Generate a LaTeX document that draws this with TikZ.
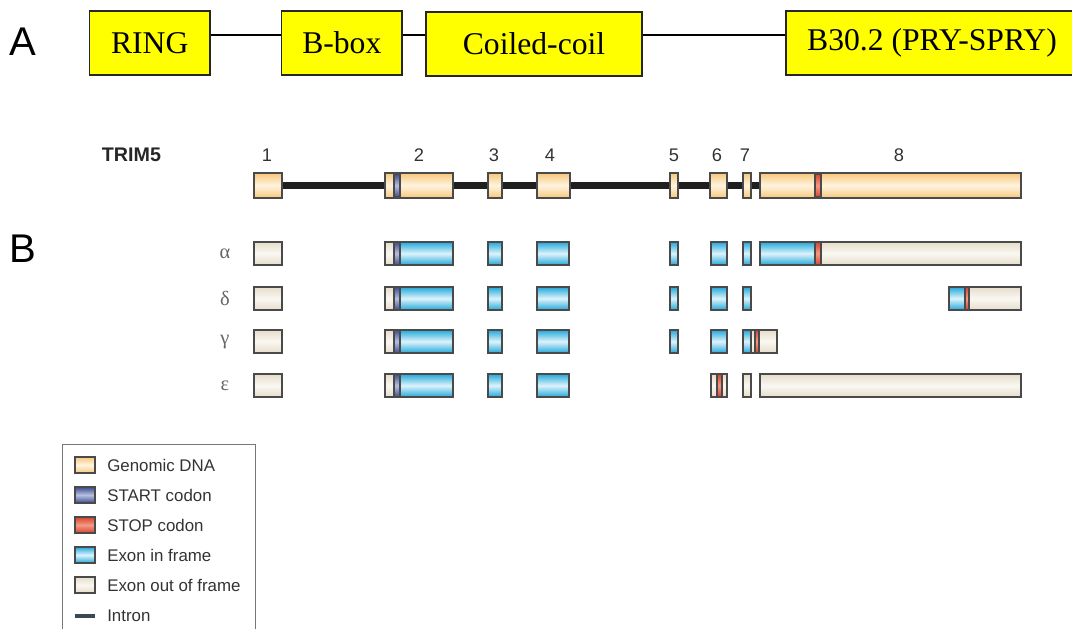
\documentclass[tikz,border=0pt]{standalone}
\usepackage{fontspec}
\setmainfont{Liberation Serif}
\newfontfamily\arialfont{Liberation Sans}
\usepackage{tikz}

\definecolor{domyellow}{HTML}{FFFF00}
\definecolor{edgegray}{HTML}{4A4A4A}
\definecolor{dnaedge}{HTML}{F7C77B}
\definecolor{dnamid}{HTML}{FFF4E0}
\definecolor{blueedge}{HTML}{22A8DA}
\definecolor{bluemid}{HTML}{DDF3FB}
\definecolor{beigeedge}{HTML}{E6DDCB}
\definecolor{beigemid}{HTML}{FAF7F1}
\definecolor{startedge}{HTML}{3C4C8E}
\definecolor{startmid}{HTML}{B8C0E0}
\definecolor{stopedge}{HTML}{D8432C}
\definecolor{stopmid}{HTML}{F49A85}
\definecolor{frameline}{HTML}{777777}
\definecolor{intronleg}{HTML}{3A4A55}

% one piece of an exon: left, right, top, look
\newcommand{\exonseg}[4]{\draw[#4] (#1,#3) rectangle (#2,#3+23);}

\begin{document}
\begin{tikzpicture}[x=0.025cm, y=-0.025cm,
    dombox/.style={draw=black!85, line width=1.1pt, fill=domyellow, inner sep=0pt,
                   minimum height=1.6cm, font=\fontsize{22.5}{26}\selectfont},
    panel/.style={font=\arialfont\fontsize{28.5}{32}\selectfont},
    linker/.style={line width=1.3pt},
    outl/.style={draw=edgegray, line width=0.85pt},
    gdna/.style={outl, top color=dnaedge, bottom color=dnaedge, middle color=dnamid},
    inframe/.style={outl, top color=blueedge, bottom color=blueedge, middle color=bluemid},
    outframe/.style={outl, top color=beigeedge, bottom color=beigeedge, middle color=beigemid},
    startc/.style={outl, top color=startedge, bottom color=startedge, middle color=startmid},
    stopc/.style={outl, top color=stopedge, bottom color=stopedge, middle color=stopmid},
    exonbox/.style={gdna, inner sep=0pt, minimum height=0.625cm},
    intron/.style={line width=4.3pt, draw=black!88},
    exnum/.style={font=\arialfont\fontsize{13}{15}\selectfont, text=black!80},
    iso/.style={font=\fontsize{14.5}{16}\selectfont, text=black!60},
    legtext/.style={font=\arialfont\fontsize{12}{14}\selectfont, text=black!80,
                    anchor=west, inner sep=0pt}
  ]
  \useasboundingbox (0,0) rectangle (1072,629);

  % A: domains
  \node[panel] (pa) at (23,42) {A};
  \node[dombox, minimum width=3.01cm] (ring) at (149.75,43) {RING};
  \node[dombox, minimum width=3.01cm] (bbox) at (341.8,43) {B-box};
  \node[dombox, minimum width=5.4cm] (coil) at (534,44) {Coiled-coil};
  \node[dombox, minimum width=7.3cm] (spry) at (932,43) {B30.2 (PRY-SPRY)};
  \draw[linker] (ring.east |- 0,35) -- (bbox.west |- 0,35);
  \draw[linker] (bbox.east |- 0,35) -- (coil.west |- 0,35);
  \draw[linker] (coil.east |- 0,35) -- (spry.west |- 0,35);

  % B: gene and isoforms
  \node[panel] (pb) at (23,249) {B};
  \node[font=\arialfont\bfseries\fontsize{14}{16}\selectfont, text=black!85] (trim) at (131.5,154.5) {TRIM5};

  \foreach \n/\a/\b/\c in {1/254/282/267, 2/385/453/419, 3/488/502/494, 4/537/570/550,
                           5/670/678/674, 6/710/727/717, 7/743/751/745, 8/760/1021/899} {
    \node[exonbox, minimum width={(\b-\a)*0.025cm}] (g\n) at ({(\a+\b)/2},185.5) {};
    \node[exnum] (num\n) at (\c,155) {\n};
  }
  \foreach \i [evaluate=\i as \j using int(\i+1)] in {1,...,7}
    \draw[intron] (g\i) -- (g\j);
  \exonseg{394}{400}{174}{startc}
  \exonseg{815}{821}{174}{stopc}

  \node[iso] (alpha) at (225,253.5) {α};
  \node[iso] (delta) at (225,298) {δ};
  \node[iso] (gamma) at (225,341.5) {γ};
  \node[iso] (eps) at (225,385.5) {ε};

  \foreach \t in {242,287,330,374} {
    \exonseg{254}{282}{\t}{outframe}
    \exonseg{385}{394}{\t}{outframe}
    \exonseg{394}{400}{\t}{startc}
    \exonseg{400}{453}{\t}{inframe}
    \exonseg{488}{502}{\t}{inframe}
    \exonseg{537}{569}{\t}{inframe}
  }
  \foreach \t in {242,287,330} {
    \exonseg{670}{678}{\t}{inframe}
    \exonseg{711}{727}{\t}{inframe}
    \exonseg{743}{751}{\t}{inframe}
  }
  % alpha
  \exonseg{760}{815}{242}{inframe}
  \exonseg{815}{821}{242}{stopc}
  \exonseg{821}{1021}{242}{outframe}
  % delta
  \exonseg{949}{965}{287}{inframe}
  \exonseg{965}{969}{287}{stopc}
  \exonseg{969}{1021}{287}{outframe}
  % gamma
  \exonseg{751}{755}{330}{outframe}
  \exonseg{755}{759}{330}{stopc}
  \exonseg{759}{777}{330}{outframe}
  % epsilon
  \exonseg{711}{717}{374}{outframe}
  \exonseg{717}{722}{374}{stopc}
  \exonseg{722}{727}{374}{outframe}
  \exonseg{743}{751}{374}{outframe}
  \exonseg{760}{1021}{374}{outframe}

  % legend
  \draw[frameline, line width=0.7pt] (62,640) -- (62,444) -- (255,444) -- (255,640);
  \draw[gdna] (75,457) rectangle (95,473);
  \draw[startc] (75,487) rectangle (95,503);
  \draw[stopc] (75,517) rectangle (95,533);
  \draw[inframe] (75,547) rectangle (95,563);
  \draw[outframe] (75,577) rectangle (95,593);
  \draw[intronleg, line width=2.8pt] (75,616) -- (95,616);
  \node[legtext] (leg1) at (107,465) {Genomic DNA};
  \node[legtext] (leg2) at (107,495) {START codon};
  \node[legtext] (leg3) at (107,525) {STOP codon};
  \node[legtext] (leg4) at (107,555) {Exon in frame};
  \node[legtext] (leg5) at (107,585) {Exon out of frame};
  \node[legtext] (leg6) at (107,616) {Intron};
\end{tikzpicture}
\end{document}
